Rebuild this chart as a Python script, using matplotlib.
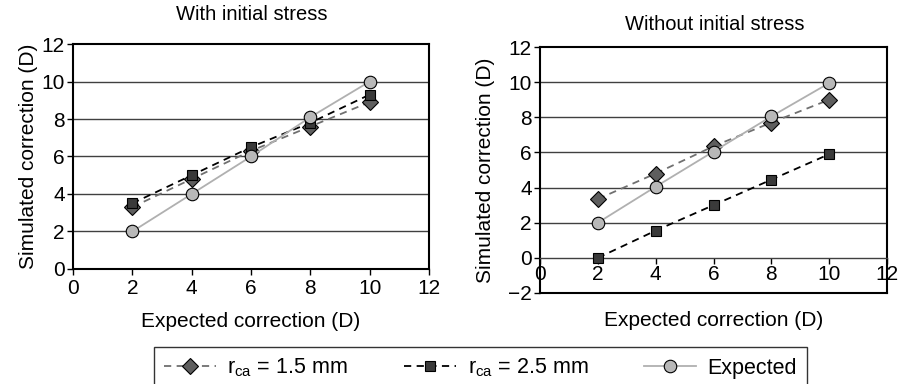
import numpy as np
import matplotlib
matplotlib.use('Agg')
import matplotlib.pyplot as plt

expected_x = [2, 4, 6, 8, 10]

# With initial stress
left_r15 = [3.3, 4.8, 6.3, 7.6, 8.9]
left_r25 = [3.5, 5.0, 6.5, 7.8, 9.3]
left_exp = [2.0, 4.0, 6.0, 8.1, 10.0]

# Without initial stress
right_r15 = [3.35, 4.8, 6.35, 7.7, 9.0]
right_r25 = [0.0, 1.55, 3.0, 4.45, 5.9]
right_exp = [2.0, 4.05, 6.05, 8.05, 9.95]

xticks = [0, 2, 4, 6, 8, 10, 12]
left_yticks = [0, 2, 4, 6, 8, 10, 12]
right_yticks = [-2, 0, 2, 4, 6, 8, 10, 12]

labels = ['r$_{\\mathregular{ca}}$ = 1.5 mm', 'r$_{\\mathregular{ca}}$ = 2.5 mm', 'Expected']

plt.rcParams['font.family'] = ['Liberation Sans', 'DejaVu Sans']
plt.rcParams['mathtext.fontset'] = 'custom'
plt.rcParams['mathtext.rm'] = 'Liberation Sans'

fig = plt.figure(figsize=(9, 3.84), dpi=100)
ax1 = fig.add_axes([0.0811, 0.2995, 0.3956, 0.5859])
ax2 = fig.add_axes([0.600, 0.2370, 0.3856, 0.6406])


def draw(ax, r15, r25, exp):
    h1, = ax.plot(expected_x, r15, linestyle=(0, (4, 3)), color='#707070', lw=1.3,
                  marker='D', ms=8, mfc='#5e5e5e', mec='black', mew=0.8, zorder=3)
    h2, = ax.plot(expected_x, r25, linestyle=(0, (4, 3)), color='black', lw=1.3,
                  marker='s', ms=7.5, mfc='#3a3a3a', mec='black', mew=0.8, zorder=3)
    h3, = ax.plot(expected_x, exp, linestyle='-', color='#b0b0b0', lw=1.3,
                  marker='o', ms=9, mfc='#b8b8b8', mec='black', mew=0.8, zorder=4)
    for s in ax.spines.values():
        s.set_linewidth(1.5)
    ax.tick_params(labelsize=15, direction='out', length=4, width=1)
    ax.set_xticks(xticks)
    ax.set_xlim(0, 12)
    ax.set_xlabel('Expected correction (D)', fontsize=15, va='center')
    ax.set_ylabel('Simulated correction (D)', fontsize=15, va='center')
    return h1, h2, h3


handles = draw(ax1, left_r15, left_r25, left_exp)
ax1.set_ylim(0, 12)
ax1.set_yticks(left_yticks)
for y in left_yticks[1:-1]:
    ax1.axhline(y, color='#404040', lw=1.0, zorder=1)
ax1.tick_params(axis='x', pad=3)
ax1.tick_params(axis='y', pad=2)
ax1.xaxis.set_label_coords(0.5, -0.235)
ax1.yaxis.set_label_coords(-0.124, 0.5)
fig.text(252 / 900, 1 - 15 / 384, 'With initial stress', fontsize=14.5, ha='center', va='center')

draw(ax2, right_r15, right_r25, right_exp)
ax2.set_ylim(-2, 12)
ax2.set_yticks(right_yticks)
ax2.set_yticklabels(['\u22122' if t < 0 else str(t) for t in right_yticks])
for y in right_yticks[2:-1]:
    ax2.axhline(y, color='#404040', lw=1.0, zorder=1)
ax2.spines['bottom'].set_position(('data', 0))
ax2.spines['bottom'].set_linewidth(1.0)
ax2.spines['bottom'].set_color('#404040')
ax2.axhline(-2, color='black', lw=1.5, clip_on=False, zorder=1)
ax2.tick_params(axis='x', pad=1)
ax2.tick_params(axis='y', pad=2)
ax2.xaxis.set_label_coords(0.5, -0.11)
ax2.yaxis.set_label_coords(-0.158, 0.5)
fig.text(715 / 900, 1 - 25 / 384, 'Without initial stress', fontsize=14.5, ha='center', va='center')

fig.legend(handles, labels, loc='upper center', bbox_to_anchor=(0.534, 0.0964), ncol=3,
           fontsize=15.5, frameon=True, fancybox=False, edgecolor='black',
           handlelength=2.4, handletextpad=0.55, columnspacing=2.6, borderpad=0.45,
           borderaxespad=0)

fig.savefig('out.png', dpi=100)
